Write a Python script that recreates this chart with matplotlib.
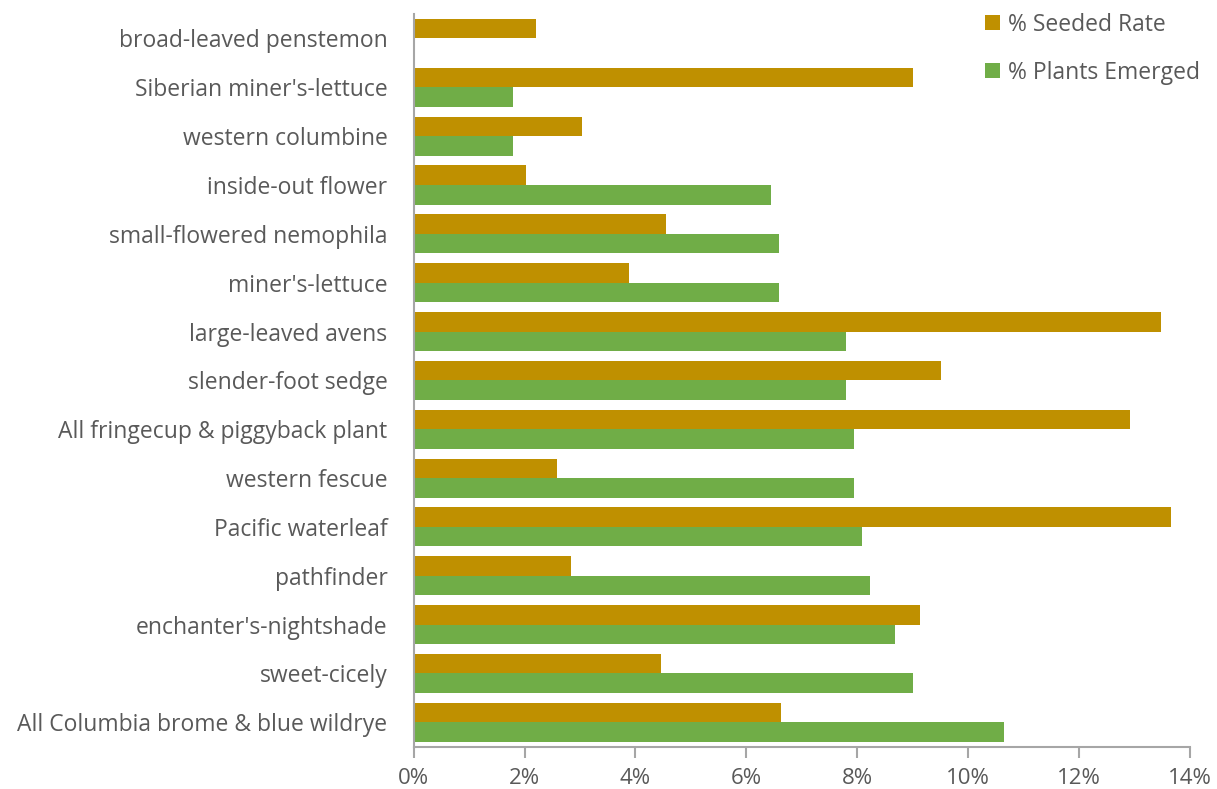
import numpy as np
import matplotlib.pyplot as plt
from matplotlib.ticker import FuncFormatter

species = [
    "broad-leaved penstemon",
    "Siberian miner's-lettuce",
    "western columbine",
    "inside-out flower",
    "small-flowered nemophila",
    "miner's-lettuce",
    "large-leaved avens",
    "slender-foot sedge",
    "All fringecup & piggyback plant",
    "western fescue",
    "Pacific waterleaf",
    "pathfinder",
    "enchanter's-nightshade",
    "sweet-cicely",
    "All Columbia brome & blue wildrye",
]
seeded_rate = [2.20, 9.01, 3.03, 2.02, 4.55, 3.88, 13.49, 9.52, 12.92, 2.58, 13.66, 2.84, 9.14, 4.46, 6.63]
plants_emerged = [0.0, 1.79, 1.79, 6.45, 6.59, 6.59, 7.80, 7.80, 7.95, 7.95, 8.09, 8.24, 8.69, 9.00, 10.64]
x_ticks = [0, 2, 4, 6, 8, 10, 12, 14]

text_col = "#595959"
axis_col = "#A6A6A6"
plt.rcParams["font.family"] = ["Open Sans", "DejaVu Sans"]

fig = plt.figure(figsize=(12.17, 7.89), dpi=100)
ax = fig.add_axes([0.340, 0.0536, 0.6376, 0.9286])

y = np.arange(len(species))
h = 0.4
ax.barh(y - h / 2, seeded_rate, height=h, color="#BF9000", label="% Seeded Rate")
ax.barh(y + h / 2, plants_emerged, height=h, color="#70AD47", label="% Plants Emerged")

ax.set_ylim(len(species) - 0.5, -0.5)
ax.set_xlim(0, 14)
ax.set_yticks(y)
ax.set_yticklabels(species, fontsize=16.5, color=text_col)
ax.set_xticks(x_ticks)
ax.xaxis.set_major_formatter(FuncFormatter(lambda v, p: f"{v:.0f}%"))
ax.tick_params(axis="x", colors=axis_col, labelcolor=text_col, labelsize=16,
               length=8, width=1.5, pad=7)
ax.tick_params(axis="y", length=0, pad=19)

for side in ["top", "right"]:
    ax.spines[side].set_visible(False)
for side in ["left", "bottom"]:
    ax.spines[side].set_color(axis_col)
    ax.spines[side].set_linewidth(1.5)

leg = ax.legend(loc="upper right", bbox_to_anchor=(1.04, 1.03), frameon=False,
                fontsize=16.5, handlelength=0.65, handleheight=0.65, handletextpad=0.35,
                labelspacing=1.05)
for t in leg.get_texts():
    t.set_color(text_col)

fig.savefig("out.png", dpi=100)
